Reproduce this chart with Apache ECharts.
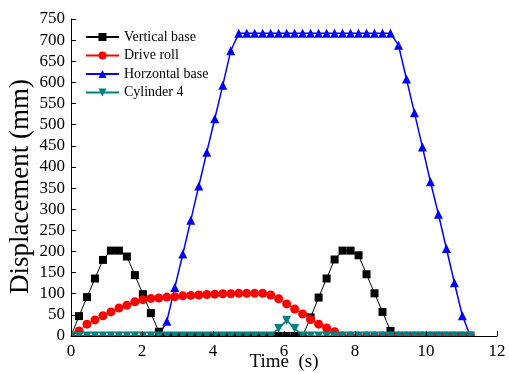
<!DOCTYPE html>
<html>
<head>
<meta charset="utf-8">
<script src="https://cdn.jsdelivr.net/npm/echarts@6/dist/echarts.min.js"></script>
<style>
  html, body { margin: 0; padding: 0; background: #fff; }
  #chart { width: 509px; height: 373px; }
</style>
</head>
<body>
<div id="chart"></div>
<script>
// sample times (s), one every ~0.225 s
const times = [
  0, 0.225, 0.45, 0.675, 0.9, 1.125, 1.35, 1.575, 1.8, 2.025,
  2.25, 2.475, 2.7, 2.925, 3.15, 3.375, 3.6, 3.825, 4.05, 4.275,
  4.5, 4.725, 4.95, 5.175, 5.4, 5.625, 5.85, 6.075, 6.3, 6.525,
  6.75, 6.975, 7.2, 7.425, 7.65, 7.875, 8.1, 8.325, 8.55, 8.775,
  9.0, 9.225, 9.45, 9.675, 9.9, 10.125, 10.35, 10.575, 10.8, 11.025,
  11.25,
]

const verticalBase = [
  0, 47, 92, 136, 180, 202, 202, 188, 144, 99,
  54, 10, 0, 0, 0, 0, 0, 0, 0, 0,
  0, 0, 0, 0, 0, 0, 0, 0, 0, 0,
  44, 91, 136, 181, 202, 202, 191, 146, 101, 57,
  12, 0, 0, 0, 0, 0, 0, 0, 0, 0,
  0,
]

const driveRoll = [
  0, 12, 28, 38, 48, 57, 66, 73, 81, 86,
  89, 90, 92, 93, 95, 96, 97, 98, 99, 100,
  100, 101, 101, 101, 101, 97, 88, 76, 64, 52,
  39, 28, 19, 10, 0, 0, 0, 0, 0, 0,
  0, 0, 0, 0, 0, 0, 0, 0, 0, 0,
  0,
]

const horizontalBase = [
  0, 0, 0, 0, 0, 0, 0, 0, 0, 0,
  0, 0, 35, 115, 194, 274, 355, 435, 514, 593,
  675, 716, 716, 716, 716, 716, 716, 716, 716, 716,
  716, 716, 716, 716, 716, 716, 716, 716, 716, 716,
  716, 688, 608, 528, 447, 365, 288, 207, 126, 48,
  0,
]

const cylinder4 = [
  0, 0, 0, 0, 0, 0, 0, 0, 0, 0,
  0, 0, 0, 0, 0, 0, 0, 0, 0, 0,
  0, 0, 0, 0, 0, 0, 18, 37, 18, 0,
  0, 0, 0, 0, 0, 0, 0, 0, 0, 0,
  0, 0, 0, 0, 0, 0, 0, 0, 0, 0,
  0,
]

const seriesNames = ['Vertical base', 'Drive roll', 'Horzontal base', 'Cylinder 4']

const font = '"Liberation Serif", "Times New Roman", serif'
const grid = { left: 71, right: 12, top: 19, bottom: 37 }
const W = 509
const H = 373

function pairs(values) {
  return values.map((v, i) => [times[i], v])
}

function lineSeries(name, values, color, symbol, size, width) {
  return {
    name,
    type: 'line',
    data: pairs(values),
    symbol,
    symbolSize: size,
    showAllSymbol: true,
    lineStyle: { color, width },
    itemStyle: { color },
    emphasis: { disabled: true },
  }
}

const chart = echarts.init(document.getElementById('chart'), null, { renderer: 'canvas' })

const axisBase = {
  axisLine: { show: true, lineStyle: { color: '#000', width: 1 } },
  axisTick: { show: true, inside: true, length: 5, lineStyle: { color: '#000' } },
  splitLine: { show: false },
  nameMoveOverlap: false,
  z: 10,
}

chart.setOption({
  animation: false,
  backgroundColor: '#fff',
  grid: { ...grid, outerBoundsMode: 'none', containLabel: false },
  legend: {
    orient: 'vertical',
    left: 85,
    top: 30,
    padding: 0,
    itemWidth: 33,
    itemHeight: 10,
    itemGap: 4.5,
    data: seriesNames,
    textStyle: { fontFamily: font, fontSize: 14, color: '#000', lineHeight: 14 },
  },
  xAxis: {
    ...axisBase,
    type: 'value',
    min: 0,
    max: 12,
    interval: 2,
    name: 'Time  (s)',
    nameLocation: 'middle',
    nameGap: 17,
    nameTextStyle: { fontFamily: font, fontSize: 19, color: '#000' },
    axisLabel: { fontFamily: font, fontSize: 17, color: '#000', margin: 7 },
  },
  yAxis: {
    ...axisBase,
    type: 'value',
    min: 0,
    max: 750,
    interval: 50,
    name: 'Displacement (mm)',
    nameLocation: 'middle',
    nameGap: 37,
    nameTextStyle: { fontFamily: font, fontSize: 27, color: '#000', padding: [0, 18, 0, 0] },
    axisLabel: { fontFamily: font, fontSize: 17, color: '#000', margin: 6 },
  },
  // white strips hide the half of each marker that falls outside the plot
  graphic: [
    {
      type: 'rect',
      z: 5,
      shape: { x: grid.left - 6, y: H - grid.bottom, width: W - grid.left - grid.right + 12, height: 6 },
      style: { fill: '#fff' },
    },
    {
      type: 'rect',
      z: 5,
      shape: { x: grid.left - 5.5, y: H - grid.bottom - 10, width: 5.5, height: 10 },
      style: { fill: '#fff' },
    },
  ],
  series: [
    lineSeries(seriesNames[0], verticalBase, '#000000', 'rect', 8, 1),
    lineSeries(seriesNames[1], driveRoll, '#ff0000', 'circle', 9, 1),
    lineSeries(seriesNames[2], horizontalBase, '#0000ff', 'triangle', 9, 1.5),
    { ...lineSeries(seriesNames[3], cylinder4, '#008080', 'triangle', 9, 1.5), symbolRotate: 180 },
  ],
})
</script>
</body>
</html>
